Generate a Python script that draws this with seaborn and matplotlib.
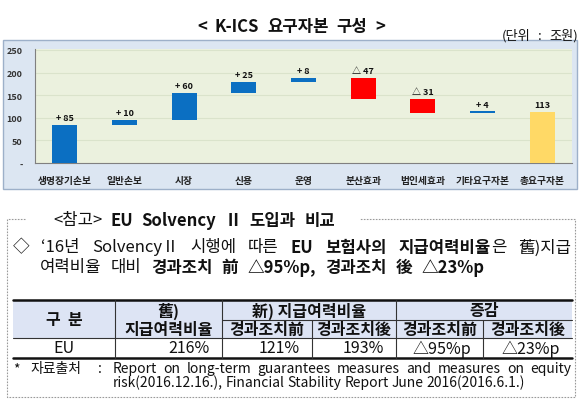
import matplotlib
matplotlib.use('Agg')
import matplotlib.pyplot as plt
import numpy as np
import pandas as pd
import seaborn as sns
from matplotlib.patches import Rectangle

# Chart data
categories = ['생명장기손보', '일반손보', '시장', '신용', '운영', '분산효과', '법인세효과', '기타요구자본', '총요구자본']
changes = [85, 10, 60, 25, 8, -47, -31, 4]
total = 113
value_labels = ['+ 85', '+ 10', '+ 60', '+ 25', '+ 8', '△ 47', '△ 31', '+ 4', '113']
yticks = [0, 50, 100, 150, 200, 250]
ytick_labels = ['-', '50', '100', '150', '200', '250']

# Table data
table_sub_headers = ['경과조치前', '경과조치後', '경과조치前', '경과조치後']
table_row_name = 'EU'
table_values = ['216%', '121%', '193%', '△95%p', '△23%p']

sns.set_style('white')
plt.rcParams['font.family'] = ['Noto Sans CJK KR', 'DejaVu Sans']

BLUE = '#0B6FC2'
RED = '#FF0000'
YELLOW = '#FFD966'

# waterfall geometry from the changes
running = np.concatenate([[0], np.cumsum(changes)])
heights = [abs(c) for c in changes] + [total]
bottoms = [min(running[i], running[i + 1]) for i in range(len(changes))] + [0]
colours = [BLUE if c > 0 else RED for c in changes] + [YELLOW]
df = pd.DataFrame({'cat': categories, 'height': heights, 'bottom': bottoms})

W, H = 580, 402
fig = plt.figure(figsize=(W / 100, H / 100), dpi=100)
bg = fig.add_axes([0, 0, 1, 1])
bg.set_xlim(0, W)
bg.set_ylim(H, 0)
bg.set_axis_off()
renderer = fig.canvas.get_renderer()


def draw_runs(words, x0, y, size, x1=None, gap=6.0):
    """words: list of [(text, bold), ...]; justified between x0 and x1 if given"""
    items, widths = [], []
    for word in words:
        parts, total_w = [], 0
        for txt, bold in word:
            t = bg.text(0, y, txt, fontsize=size, weight='bold' if bold else 'normal',
                        ha='left', va='center', color='#111')
            wd = t.get_window_extent(renderer).width
            parts.append((t, wd))
            total_w += wd
        items.append(parts)
        widths.append(total_w)
    if x1 is not None and len(words) > 1:
        gap = (x1 - x0 - sum(widths)) / (len(words) - 1)
    x = x0
    for parts in items:
        for t, wd in parts:
            t.set_x(x)
            x += wd
        x += gap


# ---- chart part
draw_runs([[('<', True)], [('K-ICS', True)], [('요구자본', True)], [('구성', True)], [('>', True)]],
          197, 27, 12, x1=385)
draw_runs([[('(단위', False)], [(':', False)], [('조원)', False)]], 502, 36, 9.5, x1=578)
bg.add_patch(Rectangle((3, 41), 574, 149, fc='#DCE6F2', ec='#9DB0C9', lw=1))


def px_axes(x0, y0, x1, y1):
    return fig.add_axes([x0 / W, 1 - y1 / H, (x1 - x0) / W, (y1 - y0) / H])


ax = px_axes(35, 50, 572, 164)
ax.set_facecolor('#EBF1DE')
sns.barplot(data=df, x='cat', y='height', bottom=df['bottom'], color=BLUE, width=0.42,
            saturation=1, errorbar=None, ax=ax, zorder=3)
for patch, c in zip(ax.patches, colours):
    patch.set_facecolor(c)
    patch.set_edgecolor('none')

for i, (b, h, lab) in enumerate(zip(bottoms, heights, value_labels)):
    ax.annotate(lab, xy=(i, b + h), xytext=(0, 2), textcoords='offset points',
                ha='center', va='bottom', fontsize=6.5, weight='bold', color='#111')

ax.set_ylim(0, 252)
ax.set_xlim(-0.5, len(categories) - 0.5)
ax.set_yticks(yticks)
ax.set_yticklabels(ytick_labels, fontsize=6.5, weight='bold', color='#333')
ax.set_xticks(range(len(categories)))
ax.set_xticklabels(categories, fontsize=7, weight='bold', color='#222')
ax.set_xticks(np.arange(-0.5, len(categories)), minor=True)
ax.tick_params(axis='x', which='major', length=0, pad=9)
ax.tick_params(axis='x', which='minor', length=6, direction='inout', color='#808080', width=0.8)
ax.tick_params(axis='y', length=3, direction='out', color='#808080', width=0.8, pad=6)
ax.set_xlabel(None)
ax.set_ylabel(None)
ax.grid(axis='y', color='#DAE3CB', lw=0.8, zorder=0)
for side in ('top', 'right'):
    ax.spines[side].set_visible(False)
for side in ('left', 'bottom'):
    ax.spines[side].set_color('#808080')
    ax.spines[side].set_linewidth(0.8)

# ---- lower text box
dash = dict(color='#9A9A9A', lw=0.8, ls=(0, (1.5, 1.2)))
bg.plot([25, 7, 7, 575, 575, 360], [220, 220, 398, 398, 220, 220], **dash)

draw_runs([[('<참고>', False)], [('EU', True)], [('Solvency', True)], [('Ⅱ', True)],
           [('도입과', True)], [('비교', True)]], 53, 221, 12, x1=335)

draw_runs([[('◇', False)], [('\u201816년', False)], [('SolvencyⅡ', False)], [('시행에', False)],
           [('따른', False)], [('EU', True)], [('보험사의', True)],
           [('지급여력비율', True), ('은', False)], [('舊)지급', False)]],
          13, 248, 12, x1=571)
draw_runs([[('여력비율', False)], [('대비', False)], [('경과조치', True)], [('前', True)],
           [('△95%p,', True)], [('경과조치', True)], [('後', True)], [('△23%p', True)]],
          40, 268, 12, x1=485)

# ---- table
cols = [13, 115, 222, 312, 396, 483, 572]
y_top, y_mid, y_head, y_bot = 301, 321, 339, 359
bg.add_patch(Rectangle((cols[0], y_top), cols[-1] - cols[0], y_head - y_top, fc='#DDE4F4', ec='none'))
line = dict(color='#333', lw=0.8)
bg.plot([cols[0], cols[-1]], [y_top, y_top], color='#111', lw=1.8)
bg.plot([cols[0], cols[-1]], [y_bot, y_bot], color='#111', lw=1.8)
bg.plot([cols[0], cols[-1]], [y_head, y_head], **line)
bg.plot([cols[2], cols[-1]], [y_mid, y_mid], **line)
for cx in (cols[1], cols[2], cols[4]):
    bg.plot([cx, cx], [y_top, y_bot], **line)
for cx in (cols[3], cols[5]):
    bg.plot([cx, cx], [y_mid, y_bot], **line)

hdr = dict(ha='center', va='center', fontsize=11.5, weight='bold', color='#111')
bg.text((cols[0] + cols[1]) / 2, (y_top + y_head) / 2, '구  분', **hdr)
bg.text((cols[1] + cols[2]) / 2, 311, '舊)', **hdr)
bg.text((cols[1] + cols[2]) / 2, 330, '지급여력비율', **hdr)
bg.text((cols[2] + cols[4]) / 2, 311, '新) 지급여력비율', **hdr)
bg.text((cols[4] + cols[6]) / 2, 311, '증감', **hdr)
for i, sub in enumerate(table_sub_headers):
    bg.text((cols[i + 2] + cols[i + 3]) / 2, 330, sub, **hdr)

row_y = (y_head + y_bot) / 2
bg.text((cols[0] + cols[1]) / 2, row_y, table_row_name, ha='center', va='center', fontsize=11.5, color='#111')
for i, val in enumerate(table_values):
    bg.text(cols[i + 2] - 12, row_y, val, ha='right', va='center', fontsize=11.5, color='#111')

# ---- footnote
bg.text(13, 369, '*', ha='left', va='center', fontsize=10, color='#111')
bg.text(30, 369, '자료출처', ha='left', va='center', fontsize=10, color='#111')
bg.text(98, 369, ':', ha='left', va='center', fontsize=10, color='#111')
note1 = 'Report on long-term guarantees measures and measures on equity'.split()
note2 = 'risk(2016.12.16.), Financial Stability Report June 2016(2016.6.1.)'.split()
draw_runs([[(w, False)] for w in note1], 113, 369, 10, x1=571)
draw_runs([[(w, False)] for w in note2], 113, 383, 10, x1=525)

fig.savefig('out.png', dpi=100)
